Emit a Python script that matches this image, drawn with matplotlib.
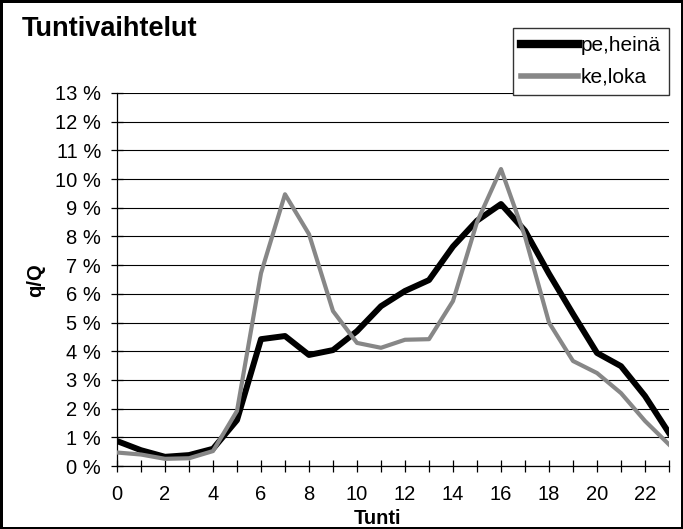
import matplotlib
matplotlib.use("Agg")
import matplotlib.pyplot as plt

plt.rcParams['font.family'] = ['Liberation Sans', 'DejaVu Sans']

# tunnit ja tuntivaihtelut (%)
hours = list(range(24))
pe_heina = [0.87, 0.55, 0.32, 0.38, 0.6, 1.6, 4.42, 4.53, 3.87, 4.04, 4.7, 5.57,
            6.1, 6.48, 7.65, 8.55, 9.13, 8.2, 6.7, 5.3, 3.94, 3.48, 2.44, 1.15]
ke_loka = [0.47, 0.4, 0.25, 0.27, 0.52, 1.92, 6.72, 9.47, 8.08, 5.4, 4.29, 4.12,
           4.4, 4.42, 5.75, 8.5, 10.35, 8.0, 5.0, 3.66, 3.24, 2.54, 1.57, 0.75]
y_ticks = list(range(14))
x_labels = [str(h) if h % 2 == 0 else '' for h in hours]

W, H = 683, 529
fig = plt.figure(figsize=(W / 100, H / 100), dpi=100, linewidth=2.5, edgecolor='black')
ax = fig.add_axes([117 / W, (H - 466) / H, (669 - 117) / W, (466 - 93) / H])

ax.plot(hours, pe_heina, color='black', linewidth=4.3, label='pe,heinä', zorder=3)
ax.plot(hours, ke_loka, color='#878787', linewidth=3.0, label='ke,loka', zorder=4)

ax.set_xlim(0, 23)
ax.set_ylim(0, 13)
ax.set_yticks(y_ticks)
ax.set_yticklabels([f'{v} %' for v in y_ticks], fontsize=14.5)
ax.set_xticks(hours)
ax.set_xticklabels(x_labels, fontsize=14.5)
ax.tick_params(direction='inout', length=9, width=0.9, color='black')
ax.tick_params(axis='x', pad=9)
ax.tick_params(axis='y', pad=7)
ax.grid(axis='y', color='black', linewidth=0.8)
ax.set_axisbelow(True)
for s in ['top', 'right']:
    ax.spines[s].set_visible(False)
for s in ['left', 'bottom']:
    ax.spines[s].set_linewidth(0.9)

fig.text(378 / W, 1 - 518 / H, 'Tunti', fontsize=14.5, fontweight='bold', ha='center', va='center')
fig.text(36 / W, 1 - 280 / H, 'q/Q', fontsize=14.5, fontweight='bold', ha='center', va='center',
         rotation=90)

fig.text(22 / W, 1 - 29 / H, 'Tuntivaihtelut', fontsize=19.5, fontweight='bold', va='center')

leg = fig.legend(loc='upper right', bbox_to_anchor=(669 / W, 1 - 28 / H), fontsize=15,
                 handlelength=2.75, handletextpad=0.1, borderpad=0.4, labelspacing=0.6,
                 fancybox=False, framealpha=1, edgecolor='#333333', borderaxespad=0)
leg.get_frame().set_linewidth(1.0)
leg.legend_handles[0].set_linewidth(6)
leg.legend_handles[1].set_linewidth(4)

fig.savefig('out.png', dpi=100)
